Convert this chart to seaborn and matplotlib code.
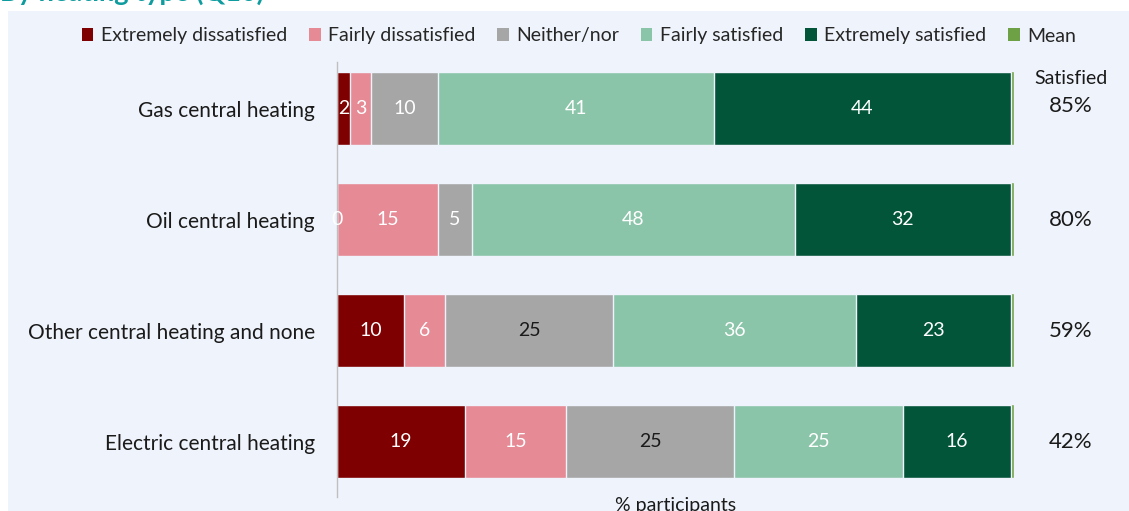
import matplotlib
matplotlib.use("Agg")
import matplotlib.pyplot as plt
from matplotlib.patches import Rectangle, Patch
import numpy as np
import pandas as pd
import seaborn as sns

# Satisfaction with heating, by heating type (Q10)
heating_types = ["Gas central heating", "Oil central heating",
                 "Other central heating and none", "Electric central heating"]
series_names = ["Extremely dissatisfied", "Fairly dissatisfied", "Neither/nor",
                "Fairly satisfied", "Extremely satisfied", "Mean"]
extremely_dissatisfied = [2, 0, 10, 19]
fairly_dissatisfied = [3, 15, 6, 15]
neither_nor = [10, 5, 25, 25]
fairly_satisfied = [41, 48, 36, 25]
extremely_satisfied = [44, 32, 23, 16]
mean_marker = [0.45, 0.45, 0.45, 0.45]
satisfied_pct = [85, 80, 59, 42]

colors = ["#7f0000", "#e68a96", "#a6a6a6", "#8bc5a9", "#03553a", "#6ea146"]
neither_text = ["white", "white", "#1a1a1a", "#1a1a1a"]

bg = "#eff3fb"
sns.set_theme(style="white")
plt.rcParams["font.family"] = ["Lato", "DejaVu Sans"]
FS = 14

fig = plt.figure(figsize=(11.29, 5.11), dpi=100, facecolor="white")
W, H = 1129, 511
fig.patches.append(Rectangle((8 / W, 0), 1 - 8 / W, 1 - 11 / H,
                             transform=fig.transFigure, facecolor=bg,
                             edgecolor="none", zorder=-10))
fig.text(0.0, 1 - 1 / H, "By heating type (Q10)", color="#0e9c9f",
         fontsize=19.5, fontweight="bold", ha="left", va="baseline")

ax = fig.add_axes([337 / W, 1 - 497 / H, (1014 - 337) / W, (497 - 62) / H])
ax.set_facecolor(bg)

values = [extremely_dissatisfied, fairly_dissatisfied, neither_nor,
          fairly_satisfied, extremely_satisfied, mean_marker]
cum = np.cumsum(np.array(values, dtype=float), axis=0)
df = pd.DataFrame({"type": heating_types})
for i, name in enumerate(series_names):
    df[name] = cum[i]

# stacked bars: draw cumulative totals from longest to shortest
for i in range(len(series_names) - 1, -1, -1):
    sns.barplot(data=df, x=series_names[i], y="type", orient="h",
                color=colors[i], saturation=1, width=0.66,
                edgecolor=bg, linewidth=1.0 if i < 5 else 0.3, ax=ax)

# segment value labels
for i in range(5):
    for j in range(len(heating_types)):
        v = values[i][j]
        start = cum[i][j] - v
        tc = neither_text[j] if i == 2 else "white"
        ax.text(start + v / 2, j, f"{v}", ha="center", va="center",
                color=tc, fontsize=FS)

ax.set_xlim(0, 100.5)
ax.set_ylim(3.5, -0.42)
ax.set_xticks([])
ax.set_ylabel("")
ax.set_xlabel("% participants", fontsize=FS, color="#1a1a1a", labelpad=0)
ax.tick_params(axis="y", length=0, pad=16, labelsize=15, labelcolor="#1a1a1a")
for s in ["top", "right", "bottom"]:
    ax.spines[s].set_visible(False)
ax.spines["left"].set_color("#bfbfbf")
ax.spines["left"].set_linewidth(1)

# satisfied share column
xcol = 1071 / W
fig.text(xcol, 1 - 78 / H, "Satisfied", ha="center", va="center",
         fontsize=FS, color="#1a1a1a")
for j, p in enumerate(satisfied_pct):
    yc = ax.transData.transform((0, j))[1] / fig.bbox.height
    if j == 0:
        yc = 1 - 106 / H
    fig.text(xcol, yc, f"{p}%", ha="center", va="center",
             fontsize=16, color="#1a1a1a")

handles = [Patch(facecolor=c, edgecolor="none") for c in colors]
fig.legend(handles, series_names, loc="center", bbox_to_anchor=(579 / W, 1 - 36 / H),
           ncol=6, frameon=False, fontsize=FS, handlelength=0.6, handleheight=0.6,
           handletextpad=0.4, columnspacing=1.1, borderaxespad=0)

fig.savefig("out.png", dpi=100, facecolor="white")
